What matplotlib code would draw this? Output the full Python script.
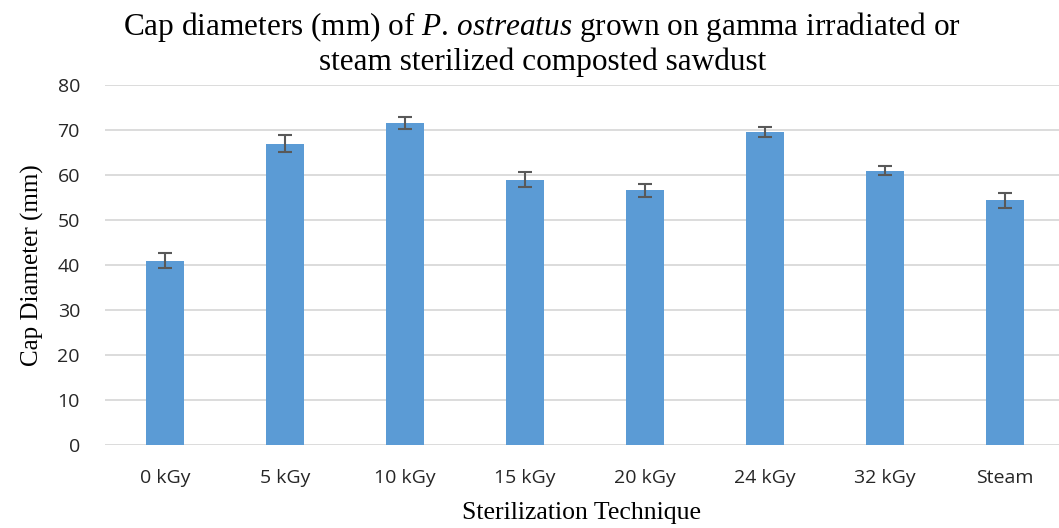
import matplotlib
matplotlib.use("Agg")
import matplotlib.pyplot as plt

categories = ["0 kGy", "5 kGy", "10 kGy", "15 kGy", "20 kGy", "24 kGy", "32 kGy", "Steam"]
cap_diam = [41.0, 67.0, 71.6, 59.0, 56.6, 69.6, 61.0, 54.4]
cap_err = [1.7, 1.8, 1.4, 1.6, 1.5, 1.1, 1.0, 1.7]

plt.rcParams['mathtext.fontset'] = 'custom'
plt.rcParams['mathtext.rm'] = 'Liberation Serif'
plt.rcParams['mathtext.it'] = 'Liberation Serif:italic'

fig = plt.figure(figsize=(10.59, 5.28), dpi=100)
ax = fig.add_axes([105 / 1059, 83 / 528, 954 / 1059, 360 / 528])

x = range(len(categories))
ax.bar(x, cap_diam, width=0.31, color="#5B9BD5", zorder=2)
ax.errorbar(x, cap_diam, yerr=cap_err, fmt="none", ecolor="#595959",
            elinewidth=1.5, capsize=5, capthick=1.5, zorder=3)

ax.set_ylim(0, 80)
ax.set_yticks(range(0, 81, 10))
ax.set_xlim(-0.5, 7.45)
ax.set_xticks(list(x))
ax.set_xticklabels(categories)
ax.grid(axis="y", color="#D9D9D9", linewidth=1.3, zorder=0)
ax.set_axisbelow(True)
ax.tick_params(length=0, labelsize=14, labelcolor="#262626")
ax.tick_params(axis="x", pad=17)
ax.tick_params(axis="y", pad=18)
for lab in ax.get_xticklabels() + ax.get_yticklabels():
    lab.set_fontfamily("Open Sans")
for s in ax.spines.values():
    s.set_visible(False)

ax.set_xlabel("Sterilization Technique", fontfamily="Liberation Serif", fontsize=18.5, labelpad=11)
ax.set_ylabel("Cap Diameter (mm)", fontfamily="Liberation Serif", fontsize=18, labelpad=10)

# title in two lines, placed by baseline
fig.text(0.512, 1 - 35 / 528,
         r"Cap diameters (mm) of $\it{P.\,ostreatus}$ grown on gamma irradiated or",
         ha="center", va="baseline", fontfamily="Liberation Serif", fontsize=22.5)
fig.text(0.512, 1 - 70 / 528, "steam sterilized composted sawdust",
         ha="center", va="baseline", fontfamily="Liberation Serif", fontsize=22.5)

fig.savefig("out.png", dpi=100)
